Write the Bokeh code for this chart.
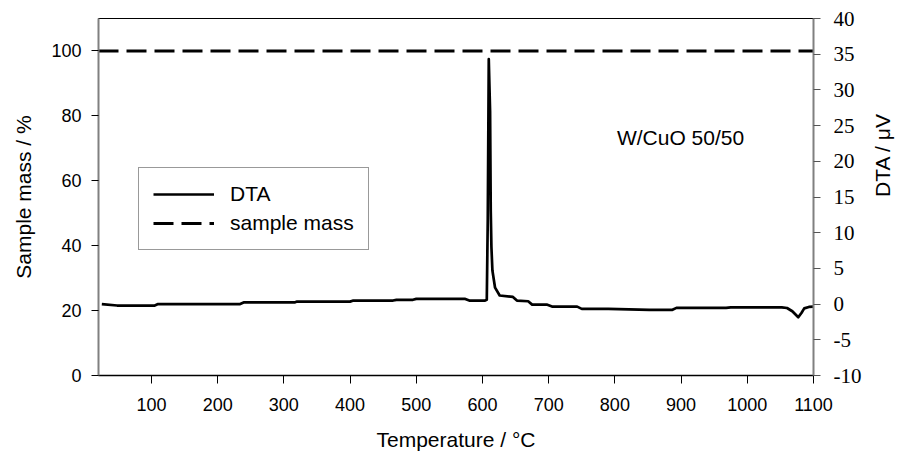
import math
from bokeh.plotting import figure
from bokeh.models import (Range1d, LinearAxis, FixedTicker, Legend, LegendItem, Label,
                          CustomJSTickFormatter)
from bokeh.embed import file_html
from bokeh.resources import INLINE

# ---------------- data ----------------
temperature = [25, 48, 105, 110, 234, 240, 317, 320, 400, 405, 465, 470, 495, 500,
               574, 580, 604, 606.5, 608, 609.5, 611.5, 612.5, 613.5, 615, 619, 626,
               646, 652, 669, 675, 697, 705, 743, 750, 790, 852, 887, 893, 968, 975,
               1052, 1060, 1068, 1077, 1082, 1086, 1093, 1100]
dta = [0.0, -0.2, -0.2, 0.0, 0.0, 0.25, 0.25, 0.35, 0.35, 0.5, 0.5, 0.6, 0.6, 0.73,
       0.73, 0.5, 0.5, 0.6, 12.0, 34.3, 27.0, 13.0, 8.0, 4.7, 2.3, 1.2,
       1.0, 0.5, 0.4, -0.07, -0.07, -0.35, -0.35, -0.67, -0.67, -0.8, -0.8, -0.53, -0.53, -0.45,
       -0.45, -0.55, -1.0, -1.85, -1.2, -0.6, -0.4, -0.35]
mass_temperature = [20, 1100]
sample_mass = [100, 100]

x_ticks = [100, 200, 300, 400, 500, 600, 700, 800, 900, 1000, 1100]
mass_ticks = [0, 20, 40, 60, 80, 100]
dta_ticks = [-10, -5, 0, 5, 10, 15, 20, 25, 30, 35, 40]

x_label = "Temperature / \u00b0C"
mass_label = "Sample mass / %"
dta_label = "DTA / \u03bcV"
annotation = "W/CuO 50/50"

SANS = "Liberation Sans"
SERIF = "Liberation Serif"

p = figure(frame_width=715, frame_height=357,
           x_range=Range1d(20, 1100), y_range=Range1d(0, 110),
           output_backend="svg", toolbar_location=None,
           min_border_left=98, min_border_top=18, min_border_bottom=70,
           min_border_right=80)
p.extra_y_ranges = {"dta": Range1d(-10, 40)}

p.xgrid.visible = False
p.ygrid.visible = False
p.outline_line_color = "black"
p.outline_line_width = 1
p.background_fill_color = "white"
p.border_fill_color = "white"

# bottom axis
xa = p.xaxis[0]
xa.ticker = FixedTicker(ticks=x_ticks)
xa.minor_tick_line_color = None
xa.major_tick_in = 0
xa.major_tick_out = 8
xa.major_tick_line_color = "black"
xa.axis_line_color = "black"
xa.axis_line_width = 1.5
xa.major_label_text_font = SANS
xa.major_label_text_font_size = "18px"
xa.major_label_text_color = "black"
xa.major_label_standoff = 14
xa.axis_label = x_label
xa.axis_label_text_font = SANS
xa.axis_label_text_font_style = "normal"
xa.axis_label_text_font_size = "21px"
xa.axis_label_text_color = "black"
xa.axis_label_standoff = 14

# left axis
ya = p.yaxis[0]
ya.ticker = FixedTicker(ticks=mass_ticks)
ya.minor_tick_line_color = None
ya.major_tick_in = 0
ya.major_tick_out = 7
ya.major_tick_line_color = "black"
ya.axis_line_color = "#808080"
ya.axis_line_width = 2
ya.major_label_text_font = SANS
ya.major_label_text_font_size = "18px"
ya.major_label_text_color = "black"
ya.major_label_standoff = 10
ya.axis_label = mass_label
ya.axis_label_text_font = SANS
ya.axis_label_text_font_style = "normal"
ya.axis_label_text_font_size = "21px"
ya.axis_label_text_color = "black"
ya.axis_label_standoff = 13

# right axis
ra = LinearAxis(y_range_name="dta", ticker=FixedTicker(ticks=dta_ticks),
                formatter=CustomJSTickFormatter(code="return tick.toString()"),
                major_label_text_font=SERIF, major_label_text_font_size="21px",
                major_label_text_font_style="normal")
ra.minor_tick_line_color = None
ra.major_tick_in = 0
ra.major_tick_out = 7
ra.major_tick_line_color = "#555555"
ra.axis_line_color = "#808080"
ra.axis_line_width = 2
ra.major_label_text_color = "black"
ra.major_label_standoff = 13
ra.axis_label = dta_label
ra.axis_label_text_font = SANS
ra.axis_label_text_font_style = "normal"
ra.axis_label_text_font_size = "21px"
ra.axis_label_text_color = "black"
ra.axis_label_standoff = 18
ra.axis_label_orientation = math.pi / 2
p.add_layout(ra, "right")

# data lines
mass_r = p.line(mass_temperature, sample_mass, line_color="black", line_width=3,
                line_dash="20 8")
dta_r = p.line(temperature, dta, y_range_name="dta", line_color="black",
               line_width=2.7, line_join="round")

legend = Legend(items=[LegendItem(label="DTA", renderers=[dta_r]),
                       LegendItem(label="sample mass", renderers=[mass_r])],
                location=(40, 125))
legend.label_text_font = SANS
legend.label_text_font_size = "21px"
legend.label_text_color = "black"
legend.padding = 14
legend.margin = 0
legend.spacing = 5
legend.glyph_width = 61
legend.glyph_height = 22
legend.label_height = 22
legend.label_standoff = 16
legend.border_line_color = "#333333"
legend.border_line_width = 1
legend.background_fill_alpha = 1
p.add_layout(legend)

p.add_layout(Label(x=803, y=73.3, text=annotation, text_font=SANS,
                   text_font_size="21px", text_color="black",
                   text_baseline="alphabetic"))

open("out.html", "w").write(file_html(p, INLINE))
